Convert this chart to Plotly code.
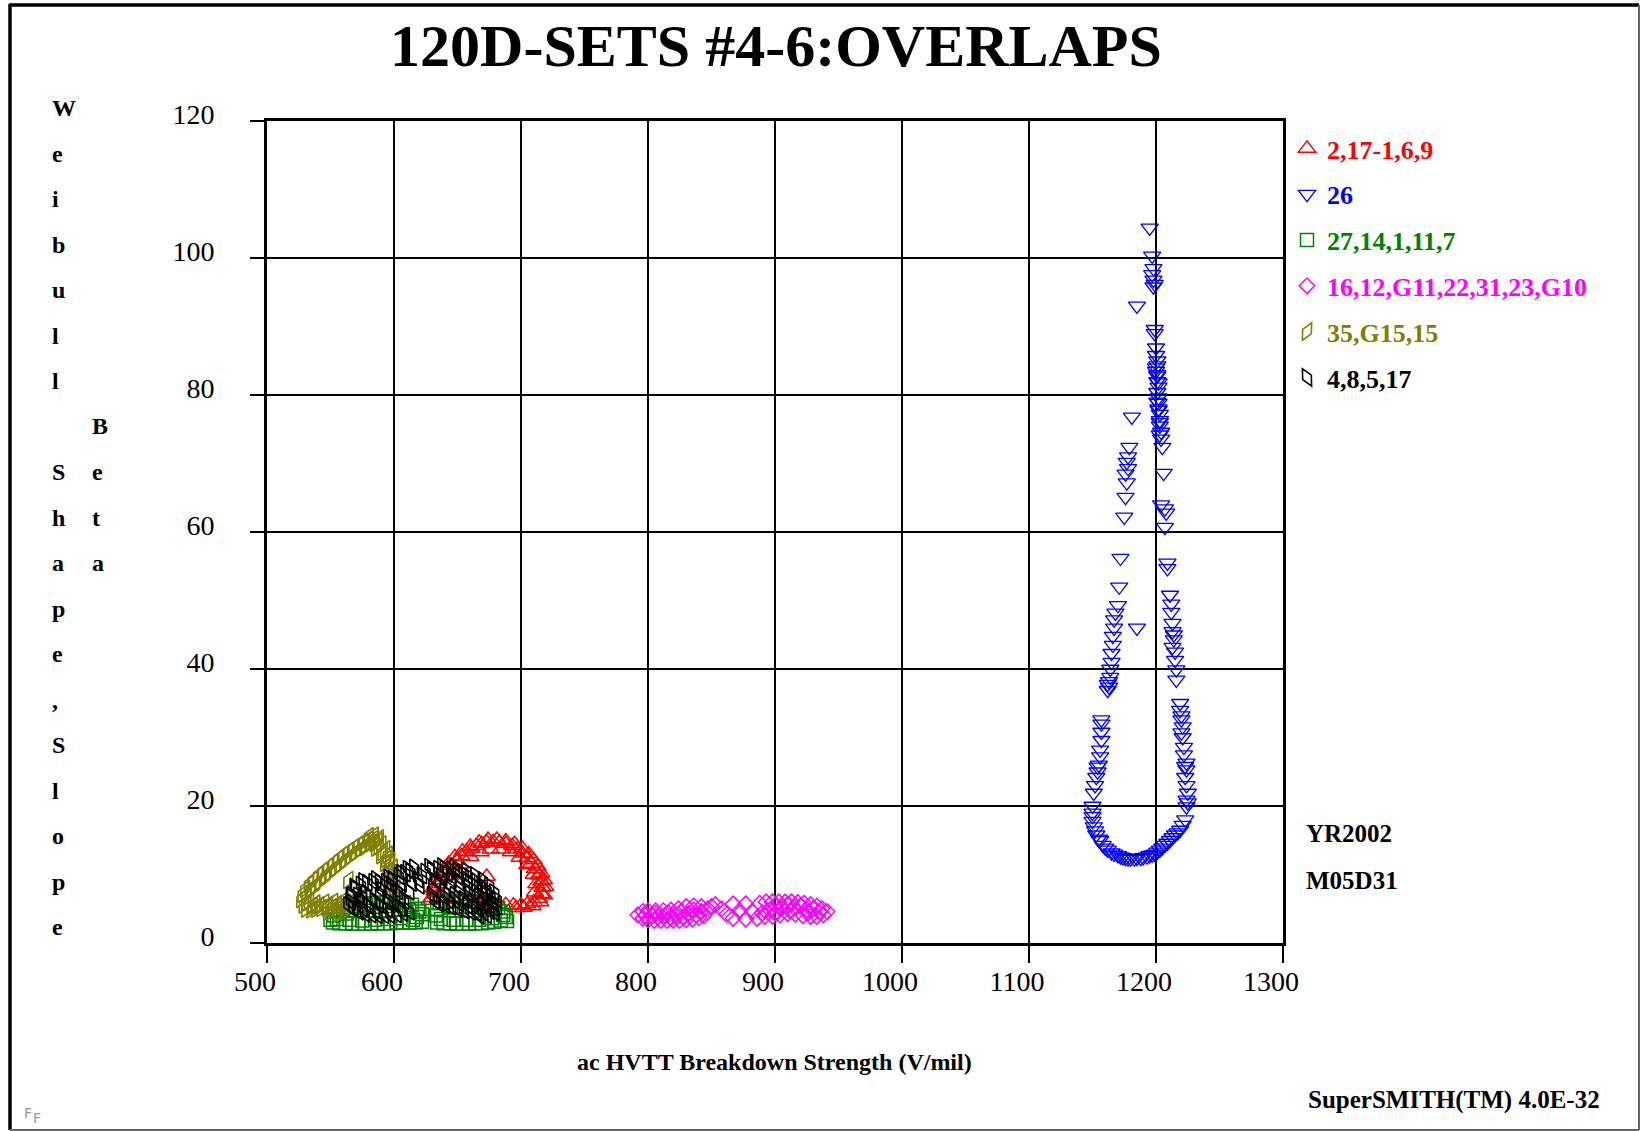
import plotly.graph_objects as go

# ---------------- data ----------------
series_names = ["2,17-1,6,9", "26", "27,14,1,11,7", "16,12,G11,22,31,23,G10", "35,G15,15", "4,8,5,17"]
series_colors = ["#FF0000", "#0000FF", "#008000", "#FF00FF", "#808000", "#000000"]

red_points = [
    (630, 6.6), (632, 7.6), (635, 8.6), (638, 9.6), (641, 10.5), (645, 11.3), (649, 12.0), (653, 12.7),
    (657, 13.3), (661, 13.8), (665, 14.2), (669, 14.5), (673, 14.7), (678, 14.8), (683, 14.7), (688, 14.5),
    (693, 14.2), (697, 13.7), (701, 13.1), (705, 12.4), (708, 11.6), (711, 10.8), (714, 9.9), (716, 9.0),
    (717, 8.1), (716, 7.2), (714, 6.5), (710, 6.0), (705, 5.7), (700, 5.5), (694, 5.5), (688, 5.6),
    (682, 5.7), (676, 5.9), (670, 6.0), (664, 6.1), (658, 6.2), (652, 6.3), (646, 6.4), (640, 6.5),
    (635, 6.5), (673, 9.7), (636, 7.3), (644, 9.8), (652, 11.5), (660, 12.6), (668, 13.3), (676, 13.7),
    (684, 13.7), (692, 13.3), (699, 12.5), (705, 11.4), (710, 10.0), (712, 8.6), (711, 7.4),
    (628, 6.2), (631, 8.0), (634, 9.2), (639, 10.6), (643, 11.6), (648, 12.6), (654, 13.4), (660, 14.1),
    (667, 14.7), (674, 15.1), (681, 15.1), (688, 14.9), (695, 14.5), (701, 13.8), (706, 13.0), (710, 12.1),
    (713, 11.2), (716, 10.2), (718, 9.2), (719, 8.2), (718, 7.0), (715, 6.0), (709, 5.4), (702, 5.2),
    (696, 5.1),
]

blue_points = [
    (1195, 104.4), (1197, 100.3), (1198, 98.5), (1197, 97.6), (1198, 96.8), (1199, 96.2), (1198, 95.8),
    (1185, 93.0), (1199, 89.6), (1199, 89.0), (1200, 86.9), (1200, 85.8), (1201, 85.0), (1201, 84.3),
    (1200, 83.5), (1201, 82.8), (1201, 82.0), (1202, 81.2), (1201, 80.4), (1202, 79.6), (1202, 78.8),
    (1202, 78.0), (1203, 77.2), (1203, 76.3), (1203, 75.5), (1204, 74.6), (1204, 73.6), (1205, 72.4),
    (1206, 68.6), (1204, 64.0), (1207, 63.4), (1208, 62.8), (1207, 60.7), (1209, 55.5), (1209, 54.7),
    (1211, 50.8), (1212, 48.3), (1213, 46.7), (1213, 45.5), (1214, 44.3), (1213, 43.2), (1215, 41.3),
    (1216, 39.9), (1216, 38.4), (1219, 35.0), (1220, 32.6), (1221, 31.6), (1220, 30.7), (1222, 28.6),
    (1224, 26.3), (1224, 25.3), (1223, 24.2), (1225, 21.9), (1224, 20.9), (1224, 19.9), (1223, 18.0),
    (1219, 16.5), (1215, 15.8), (1211, 15.0), (1207, 14.3), (1203, 13.6), (1199, 13.0), (1195, 12.8),
    (1190, 12.5), (1185, 12.4), (1180, 12.3), (1176, 12.4), (1172, 12.6), (1167, 13.0), (1162, 13.6),
    (1158, 14.3), (1155, 15.2), (1152, 16.4), (1150, 17.8), (1150, 19.0), (1150, 20.0), (1151, 21.9),
    (1153, 24.2), (1154, 25.0), (1154, 25.7), (1156, 28.2), (1157, 29.6), (1157, 30.8), (1157, 32.0),
    (1157, 32.6), (1162, 36.9), (1163, 37.4), (1164, 38.8), (1164, 40.0), (1165, 41.0), (1165, 42.3),
    (1166, 43.5), (1166, 44.8), (1167, 46.0), (1167, 47.2), (1168, 48.2), (1185, 46.0), (1170, 49.3),
    (1171, 52.0), (1172, 56.2), (1175, 62.2), (1176, 65.1), (1177, 67.2), (1176, 68.5), (1178, 69.3),
    (1177, 70.2), (1178, 71.0), (1179, 72.4), (1181, 76.8),
    (1200, 84.0), (1201, 83.0), (1202, 81.8), (1201, 79.0), (1202, 77.8), (1203, 76.0), (1203, 74.2),
    (1156, 15.0), (1153, 15.8), (1151, 17.0), (1160, 13.9), (1165, 13.2), (1170, 12.8), (1174, 12.5),
    (1178, 12.3), (1183, 12.3), (1188, 12.4), (1193, 12.6), (1197, 12.9), (1201, 13.3), (1205, 13.9),
    (1209, 14.6), (1213, 15.4), (1217, 16.1), (1221, 17.2), (1225, 20.5), (1224, 23.0), (1223, 25.8),
    (1222, 27.5), (1221, 30.0), (1155, 26.0), (1156, 27.2), (1152, 23.0), (1150, 18.5), (1162, 37.8),
    (1163, 38.2), (1212, 49.5), (1214, 45.0), (1215, 42.5), (1219, 34.0), (1220, 33.2),
]

green_points = [
    (552, 3.0), (557, 2.9), (562, 2.9), (567, 2.8), (572, 2.8), (577, 2.8), (582, 2.8), (587, 2.9),
    (592, 2.9), (597, 2.9), (602, 3.0), (607, 3.0), (612, 3.0), (617, 3.0), (622, 3.1),
    (553, 4.0), (556, 4.6), (560, 5.0), (566, 5.2), (572, 5.4), (578, 5.6), (584, 5.8), (590, 5.9),
    (596, 6.0), (602, 6.0), (608, 5.9), (614, 5.6), (619, 5.0), (622, 4.2), (618, 3.8), (620, 4.6),
    (634, 3.0), (639, 2.9), (644, 2.9), (649, 2.8), (654, 2.8), (659, 2.8), (664, 2.9), (669, 2.9),
    (674, 3.0), (679, 3.1), (684, 3.3), (688, 3.8),
    (633, 4.0), (634, 5.0), (636, 5.8), (641, 6.0), (647, 6.1), (653, 6.2), (659, 6.1), (665, 6.0),
    (671, 5.8), (677, 5.5), (682, 5.1), (686, 4.6),
    (555, 3.5), (565, 3.4), (575, 3.3), (585, 3.4), (595, 3.5), (605, 3.6), (615, 3.4), (637, 3.5),
    (647, 3.4), (657, 3.4), (667, 3.4), (677, 3.6), (686, 4.1), (563, 4.3), (580, 4.7), (600, 4.9),
    (612, 4.8), (645, 5.2), (660, 5.3), (675, 4.9), (689, 3.2), (550, 3.4),
]

magenta_points = [
    (792, 4.1), (796, 3.6), (800, 3.4), (805, 3.3), (810, 3.3), (815, 3.3), (820, 3.3), (825, 3.3),
    (830, 3.4), (835, 3.5), (840, 3.7), (844, 4.0),
    (796, 4.6), (800, 4.7), (806, 4.7), (812, 4.7), (818, 4.8), (824, 5.0), (830, 5.3), (836, 5.4),
    (842, 5.3), (847, 5.0), (813, 4.0), (822, 4.1), (832, 4.3),
    (853, 5.6), (858, 5.0), (862, 4.2), (867, 5.7), (867, 3.6), (872, 4.7), (877, 5.7), (877, 3.5),
    (882, 4.6), (886, 3.6),
    (888, 5.8), (893, 6.0), (898, 6.0), (903, 6.0), (908, 6.0), (913, 6.0), (918, 5.9), (923, 5.8),
    (928, 5.6), (933, 5.4), (937, 5.0), (941, 4.6), (938, 4.1), (933, 3.9), (928, 3.9), (922, 4.0),
    (916, 4.2), (910, 4.3), (904, 4.1), (898, 3.9), (892, 3.9), (896, 4.8), (905, 5.1), (915, 5.2),
    (925, 4.9),
    (798, 4.0), (803, 4.0), (808, 3.8), (818, 3.7), (828, 3.8), (838, 4.1), (842, 4.6), (826, 4.5),
    (806, 4.3), (816, 4.4), (836, 4.8), (850, 5.3), (900, 5.5), (910, 5.6), (920, 5.4), (930, 5.0),
    (935, 4.5), (926, 4.4), (912, 4.7), (900, 4.4), (890, 4.4),
]

olive_points = [
    (529, 5.6), (531, 5.0), (535, 4.9), (539, 5.0), (543, 5.1), (547, 5.2), (551, 5.2), (555, 5.3),
    (559, 5.4), (563, 5.6), (567, 5.8), (571, 6.0), (533, 6.0), (538, 5.8), (545, 5.9), (552, 6.0),
    (559, 6.1), (527, 6.4), (528, 7.2), (530, 7.9),
    (533, 8.6), (536, 9.2), (540, 9.9), (544, 10.5), (548, 11.1), (552, 11.7), (556, 12.3), (560, 12.9),
    (564, 13.4), (568, 13.9), (572, 14.4), (576, 14.8), (580, 15.1), (538, 8.4), (546, 9.8), (554, 11.0),
    (562, 12.1), (570, 13.2), (577, 14.0),
    (584, 15.2), (587, 14.9), (590, 14.4), (593, 13.7), (595, 12.9), (597, 12.0), (599, 11.0), (600, 10.0),
    (601, 9.0), (601, 8.0), (600, 7.2), (586, 13.9), (590, 12.8), (593, 11.7), (595, 10.5),
    (564, 9.2), (550, 4.6), (556, 4.4), (561, 4.6),
    (531, 7.0), (534, 7.7), (538, 8.2), (542, 9.0), (546, 9.6), (550, 10.3), (554, 10.9), (558, 11.5),
    (562, 12.2), (566, 12.7), (570, 13.3), (574, 13.8), (578, 14.3), (582, 14.6), (585, 14.6), (588, 14.1),
    (591, 13.3), (594, 12.3), (596, 11.4), (598, 10.2), (599, 9.0), (598, 7.8), (597, 8.5), (531, 5.9),
    (536, 5.4), (541, 5.5), (548, 5.6), (555, 5.7), (562, 5.9), (568, 6.3), (574, 6.6), (580, 15.6),
    (584, 15.7), (588, 15.3),
]

black_points = [
    (568, 5.0), (566, 6.0), (567, 7.0), (570, 7.9), (574, 8.5), (579, 8.8), (584, 8.9), (589, 8.8),
    (594, 8.9), (599, 9.3), (604, 9.8), (609, 10.2), (613, 10.4),
    (572, 4.6), (577, 4.3), (582, 4.2), (587, 4.1), (592, 4.1), (597, 4.1), (602, 4.2), (607, 4.4),
    (612, 4.6), (575, 6.2), (582, 6.6), (589, 6.9), (596, 7.2), (603, 7.6), (580, 5.4), (590, 5.5),
    (600, 5.7), (608, 6.2), (612, 7.5), (614, 8.8),
    (619, 9.3), (622, 9.9), (625, 10.4), (620, 8.4),
    (630, 10.6), (635, 10.8), (640, 10.8), (645, 10.7), (650, 10.5), (655, 10.1), (660, 9.6), (665, 9.0),
    (669, 8.4), (673, 7.7), (676, 6.9), (678, 6.0), (678, 5.2), (675, 4.7), (670, 4.5), (665, 4.5),
    (660, 4.6), (655, 4.8), (650, 5.0), (645, 5.3), (640, 5.6), (635, 5.8), (632, 6.2), (630, 7.0),
    (631, 8.0), (633, 9.0), (638, 9.6), (645, 9.3), (652, 8.8), (658, 8.3), (663, 7.6), (667, 6.8),
    (640, 7.5), (648, 7.0), (655, 6.4), (662, 5.8), (670, 5.6),
    (564, 5.5), (566, 6.8), (569, 8.2), (576, 9.0), (586, 9.3), (596, 9.5), (606, 10.2), (611, 10.8),
    (616, 11.0), (628, 11.1), (638, 11.2), (648, 11.1), (657, 10.6), (664, 9.9), (670, 9.2), (675, 8.4),
    (679, 7.4), (681, 6.4), (681, 5.4), (679, 4.5), (673, 4.1), (667, 4.0), (590, 7.8), (598, 8.4),
    (606, 8.7), (585, 6.0), (595, 6.3), (605, 6.8), (578, 7.3), (572, 6.9), (575, 5.1), (585, 4.8),
    (595, 4.9), (605, 5.1), (650, 9.8), (642, 10.1), (658, 9.2), (665, 8.2), (670, 7.3), (674, 6.2),
    (636, 8.7), (644, 8.4), (652, 7.9), (660, 7.1), (643, 6.3), (651, 5.8), (658, 5.5), (665, 5.1),
    (673, 5.3),
]

x_ticks = [500, 600, 700, 800, 900, 1000, 1100, 1200, 1300]
y_ticks = [0, 20, 40, 60, 80, 100, 120]

title_text = "120D-SETS #4-6:OVERLAPS"
x_title = "ac HVTT Breakdown Strength (V/mil)"
y_title = "Weibull Shape,Slope"
y_title2 = "Beta"
date_lines = ["YR2002", "M05D31"]
footer = "SuperSMITH(TM) 4.0E-32"

# ---------------- layout geometry (pixels) ----------------
W, H = 1640, 1131
L, R, T, B = 267, 1283, 121, 943
SERIF = "Liberation Serif"


def px_x(px):
    return (px - L) / (R - L)


def px_y(py):
    return (B - py) / (B - T)


styles = [
    dict(symbol="triangle-up-open", size=15, angle=0, lw=1.5),
    dict(symbol="triangle-down-open", size=15, angle=0, lw=1.3),
    dict(symbol="square-open", size=13, angle=0, lw=1.5),
    dict(symbol="diamond-open", size=12, angle=0, lw=1.5),
    dict(symbol="diamond-tall-open", size=14, angle=28, lw=1.6),
    dict(symbol="diamond-tall-open", size=14, angle=-28, lw=1.6),
]
all_points = [red_points, blue_points, green_points, magenta_points, olive_points, black_points]

fig = go.Figure()
for name, color, st, pts in zip(series_names, series_colors, styles, all_points):
    fig.add_trace(go.Scatter(
        x=[p[0] for p in pts], y=[p[1] for p in pts], mode="markers",
        name=f'<span style="color:{color}"><b>{name}</b></span>',
        legendgroup=name,
        marker=dict(symbol=st["symbol"], size=st["size"], angle=st["angle"], color=color,
                    line=dict(color=color, width=st["lw"])),
        hoverinfo="x+y",
    ))

axis_common = dict(
    showgrid=True, gridcolor="#000000", gridwidth=1.5,
    showline=True, linecolor="#000000", linewidth=3, mirror=True,
    ticks="outside", tickcolor="#000000", tickwidth=1.5,
    tickfont=dict(family=SERIF, size=28, color="#000000"),
    zeroline=False, fixedrange=True,
)

fig.update_xaxes(range=[500, 1300], tickvals=x_ticks, ticktext=[str(v) for v in x_ticks],
                 ticklen=17, ticklabelstandoff=-6, ticklabelshift=-12, **axis_common)
fig.update_yaxes(range=[0, 120], tickvals=y_ticks, ticktext=[str(v) for v in y_ticks],
                 ticklen=14, ticklabelstandoff=30, ticklabelshift=-7, **axis_common)

annotations = []
# vertical y-axis title letters
for i, ch in enumerate(y_title):
    if ch == " ":
        continue
    annotations.append(dict(x=px_x(50), y=px_y(108 + i * 45.5), xref="paper", yref="paper",
                            text=f"<b>{ch}</b>", showarrow=False, xanchor="left", yanchor="middle",
                            font=dict(family=SERIF, size=24, color="#000000")))
for i, ch in enumerate(y_title2):
    annotations.append(dict(x=px_x(90), y=px_y(108 + (7 + i) * 45.5), xref="paper", yref="paper",
                            text=f"<b>{ch}</b>", showarrow=False, xanchor="left", yanchor="middle",
                            font=dict(family=SERIF, size=24, color="#000000")))
annotations.append(dict(x=px_x(774), y=px_y(1062), xref="paper", yref="paper", text=f"<b>{x_title}</b>",
                        showarrow=False, xanchor="center", yanchor="middle",
                        font=dict(family=SERIF, size=24, color="#000000")))
for i, t in enumerate(date_lines):
    annotations.append(dict(x=px_x(1304), y=px_y(833 + i * 47), xref="paper", yref="paper", text=f"<b>{t}</b>",
                            showarrow=False, xanchor="left", yanchor="middle",
                            font=dict(family=SERIF, size=25, color="#000000")))
annotations.append(dict(x=px_x(1602), y=px_y(1100), xref="paper", yref="paper", text=f"<b>{footer}</b>",
                        showarrow=False, xanchor="right", yanchor="middle",
                        font=dict(family=SERIF, size=25, color="#000000")))
annotations.append(dict(x=px_x(22), y=px_y(1113), xref="paper", yref="paper", text="F",
                        showarrow=False, xanchor="left", yanchor="middle",
                        font=dict(family="DejaVu Sans", size=14, color="#999999")))
annotations.append(dict(x=px_x(31), y=px_y(1118), xref="paper", yref="paper", text="F",
                        showarrow=False, xanchor="left", yanchor="middle",
                        font=dict(family="DejaVu Sans", size=14, color="#999999")))

shapes = [
    dict(type="line", xref="paper", yref="paper", x0=px_x(10), x1=px_x(10), y0=px_y(4), y1=px_y(1130),
         line=dict(color="#000000", width=3.5)),
    dict(type="line", xref="paper", yref="paper", x0=px_x(9), x1=px_x(1639), y0=px_y(5), y1=px_y(5),
         line=dict(color="#000000", width=3.5)),
    dict(type="line", xref="paper", yref="paper", x0=px_x(1639), x1=px_x(1639), y0=px_y(5), y1=px_y(1130),
         line=dict(color="#666666", width=2)),
    dict(type="line", xref="paper", yref="paper", x0=px_x(10), x1=px_x(1639), y0=px_y(1130), y1=px_y(1130),
         line=dict(color="#666666", width=2)),
]

fig.update_layout(
    width=W, height=H,
    margin=dict(l=L, r=W - R, t=T, b=H - B, autoexpand=False),
    paper_bgcolor="#FFFFFF", plot_bgcolor="#FFFFFF",
    title=dict(text=f"<b>{title_text}</b>", x=776 / W, xanchor="center", y=1 - 45 / H, yanchor="middle",
               xref="container", yref="container",
               font=dict(family=SERIF, size=60, color="#000000")),
    showlegend=True,
    legend=dict(x=px_x(1287), xanchor="left", y=px_y(125), yanchor="top",
                font=dict(family=SERIF, size=26, color="#000000"),
                tracegroupgap=9, bgcolor="rgba(0,0,0,0)", borderwidth=0, itemsizing="trace",
                traceorder="grouped"),
    annotations=annotations,
    shapes=shapes,
)

fig.write_html("out.html")
